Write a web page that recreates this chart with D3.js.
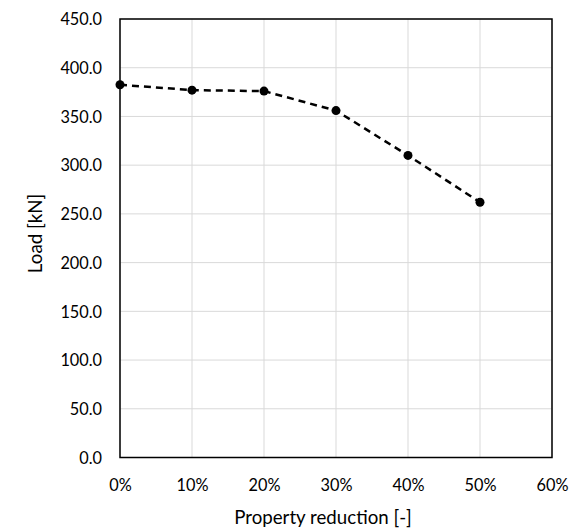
<!DOCTYPE html>
<html><head><meta charset="utf-8">
<script src="https://cdn.jsdelivr.net/npm/d3@7"></script>
<style>body{margin:0;background:#fff}svg{display:block}text{font-family:Lato,"Open Sans",sans-serif;fill:#000}</style>
</head><body>
<script>
const reductions = [0, 0.1, 0.2, 0.3, 0.4, 0.5];
const loads = [382.5, 377, 376, 356, 310, 262];
const xTicks = [0, 0.1, 0.2, 0.3, 0.4, 0.5, 0.6];
const yTicks = [0, 50, 100, 150, 200, 250, 300, 350, 400, 450];
const xTitle = "Property reduction [-]";
const yTitle = "Load [kN]";

const W = 576, H = 531;
const L = 120, R = 552, T = 19, B = 457.5;
const svg = d3.select("body").append("svg").attr("width", W).attr("height", H);
const x = d3.scaleLinear().domain([0, 0.6]).range([L, R]);
const y = d3.scaleLinear().domain([0, 450]).range([B, T]);

// grid
svg.append("g").selectAll("line.v").data(xTicks).join("line")
  .attr("x1", d => x(d)).attr("x2", d => x(d)).attr("y1", T).attr("y2", B)
  .attr("stroke", "#d9d9d9").attr("stroke-width", 1);
svg.append("g").selectAll("line.h").data(yTicks).join("line")
  .attr("y1", d => y(d)).attr("y2", d => y(d)).attr("x1", L).attr("x2", R)
  .attr("stroke", "#d9d9d9").attr("stroke-width", 1);

// border
svg.append("rect").attr("x", L).attr("y", T).attr("width", R - L).attr("height", B - T)
  .attr("fill", "none").attr("stroke", "#000").attr("stroke-width", 1.5);

// axes labels
const xa = svg.append("g").attr("transform", `translate(0,${B})`)
  .call(d3.axisBottom(x).tickValues(xTicks).tickFormat(d3.format(".0%")).tickSize(0).tickPadding(0));
xa.select(".domain").remove();
xa.selectAll("text").attr("dy", null).attr("y", 33).attr("font-size", 16.3).attr("font-family", "Lato");
const ya = svg.append("g").attr("transform", `translate(${L},0)`)
  .call(d3.axisLeft(y).tickValues(yTicks).tickFormat(d3.format(".1f")).tickSize(0).tickPadding(18));
ya.select(".domain").remove();
ya.selectAll("text").attr("dy", "0.35em").attr("font-size", 16.3).attr("font-family", "Lato");

svg.append("text").attr("x", 323).attr("y", 524).attr("text-anchor", "middle")
  .attr("font-size", 18.7).text(xTitle);
svg.append("text").attr("transform", `translate(42,233.5) rotate(-90)`)
  .attr("text-anchor", "middle").attr("font-size", 18.7).text(yTitle);

// line
const data = reductions.map((r, i) => [r, loads[i]]);
svg.append("path").datum(data)
  .attr("d", d3.line().x(d => x(d[0])).y(d => y(d[1])))
  .attr("fill", "none").attr("stroke", "#000").attr("stroke-width", 2.5)
  .attr("stroke-dasharray", "7,5");
svg.append("g").selectAll("circle").data(data).join("circle")
  .attr("cx", d => x(d[0])).attr("cy", d => y(d[1])).attr("r", 4.5).attr("fill", "#000");
</script>
</body></html>
